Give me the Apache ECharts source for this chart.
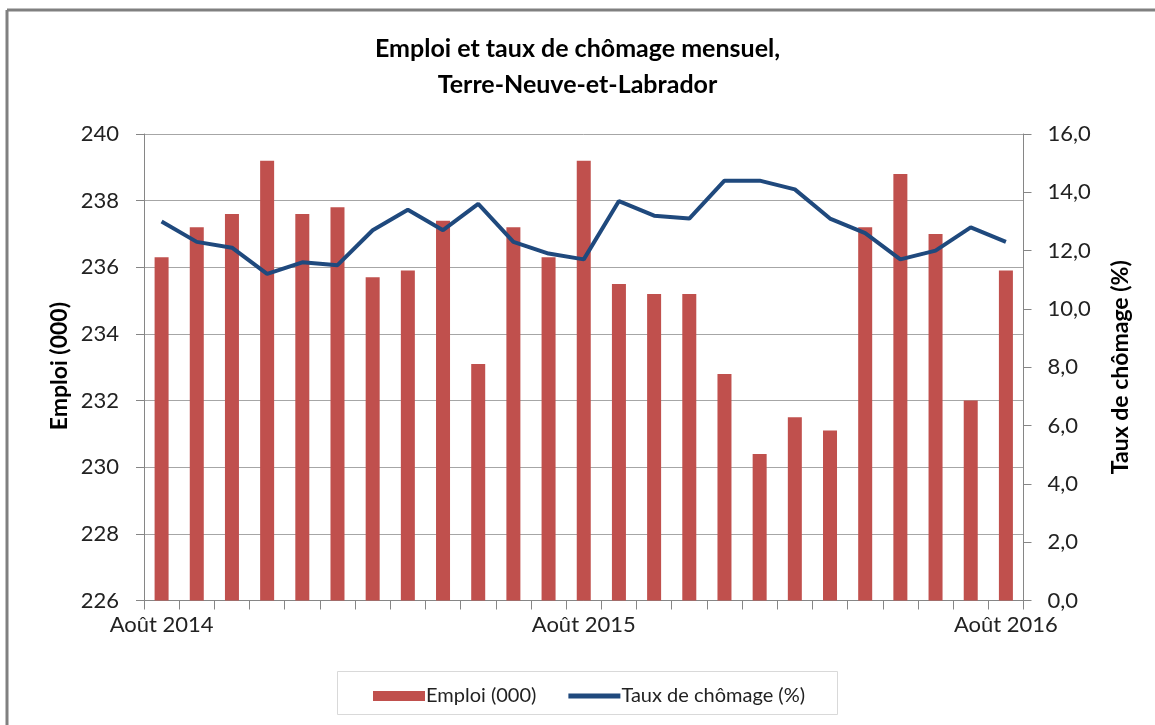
<!DOCTYPE html>
<html>
<head>
<meta charset="utf-8">
<script src="https://cdn.jsdelivr.net/npm/echarts@6/dist/echarts.min.js"></script>
<style>
html,body{margin:0;padding:0;background:#fff;}
#chart{width:1155px;height:725px;}
</style>
</head>
<body>
<div id="chart"></div>
<script>
const categories = [
  "Août 2014","Sept 2014","Oct 2014","Nov 2014","Déc 2014","Janv 2015","Févr 2015","Mars 2015","Avr 2015","Mai 2015","Juin 2015","Juil 2015",
  "Août 2015","Sept 2015","Oct 2015","Nov 2015","Déc 2015","Janv 2016","Févr 2016","Mars 2016","Avr 2016","Mai 2016","Juin 2016","Juil 2016",
  "Août 2016"
];
const emploi = [236.3,237.2,237.6,239.2,237.6,237.8,235.7,235.9,237.4,233.1,237.2,236.3,
  239.2,235.5,235.2,235.2,232.8,230.4,231.5,231.1,237.2,238.8,237.0,232.0,235.9];
const chomage = [13.0,12.3,12.1,11.2,11.6,11.5,12.7,13.4,12.7,13.6,12.3,11.9,
  11.7,13.7,13.2,13.1,14.4,14.4,14.1,13.1,12.6,11.7,12.0,12.8,12.3];
const titleLines = ["Emploi et taux de chômage mensuel,","Terre-Neuve-et-Labrador"];
const seriesNames = ["Emploi (000)","Taux de chômage (%)"];

const FONT = "Lato";
const chart = echarts.init(document.getElementById('chart'), null, {renderer:'canvas'});
chart.setOption({
  animation:false,
  backgroundColor:'#fff',
  textStyle:{fontFamily:FONT},
  title:{
    text:titleLines.join('\n'),
    left:'center', top:26,
    textStyle:{fontFamily:FONT,fontWeight:'bold',fontSize:25,color:'#000',lineHeight:36}
  },
  graphic:[
    {type:'line',shape:{x1:7,y1:10,x2:1155,y2:10},style:{stroke:'#808080',lineWidth:3},z:100},
    {type:'line',shape:{x1:7,y1:10,x2:7,y2:725},style:{stroke:'#808080',lineWidth:3},z:100},
    {type:'rect',shape:{x:337.5,y:671.5,width:500,height:43},style:{fill:'none',stroke:'#d9d9d9',lineWidth:1},z:100},
    {type:'text',left:48,top:302,rotation:Math.PI/2,z:100,
      style:{text:seriesNames[0],font:'bold 23px Lato',fill:'#000'}}
  ],
  legend:{
    left:368, top:681,
    itemGap:32,
    itemWidth:52, itemHeight:10,
    textStyle:{fontFamily:FONT,fontSize:20,color:'#222',padding:[0,0,0,-4]},
    data:[
      {name:seriesNames[0],icon:'rect'},
      {name:seriesNames[1],icon:'path://M0,0H10V1H0Z'}
    ]
  },
  grid:{left:144,right:131.5,top:134,bottom:124.5,containLabel:false},
  xAxis:{
    type:'category',
    data:categories,
    boundaryGap:true,
    axisLine:{lineStyle:{color:'#868686',width:1}},
    axisTick:{show:true,interval:0,length:9,lineStyle:{color:'#868686'}},
    axisLabel:{interval:11,fontFamily:FONT,fontSize:22,color:'#222',margin:13}
  },
  yAxis:[
    {
      type:'value',min:226,max:240,interval:2,
      axisLine:{show:true,lineStyle:{color:'#868686'}},
      axisTick:{show:true,length:8,lineStyle:{color:'#868686'}},
      axisLabel:{fontFamily:FONT,fontSize:22,color:'#222',margin:25},
      splitLine:{show:true,lineStyle:{color:'#a6a6a6',width:1}}
    },
    {
      type:'value',min:0,max:16,interval:2,position:'right',
      name:seriesNames[1],nameLocation:'middle',nameGap:86,nameRotate:90,
      nameTextStyle:{fontFamily:FONT,fontWeight:'bold',fontSize:23,color:'#000'},
      axisLine:{show:true,lineStyle:{color:'#868686'}},
      axisTick:{show:true,length:8,lineStyle:{color:'#868686'}},
      axisLabel:{fontFamily:FONT,fontSize:22,color:'#222',margin:24,
        formatter:v=>v.toFixed(1).replace('.',',')},
      splitLine:{show:false}
    }
  ],
  series:[
    {name:seriesNames[0],type:'bar',data:emploi,yAxisIndex:0,barWidth:14,
      itemStyle:{color:'#C0504D'}},
    {name:seriesNames[1],type:'line',data:chomage,yAxisIndex:1,
      symbol:'none',lineStyle:{color:'#1F497D',width:4},itemStyle:{color:'#1F497D'}}
  ]
});
</script>
</body>
</html>
